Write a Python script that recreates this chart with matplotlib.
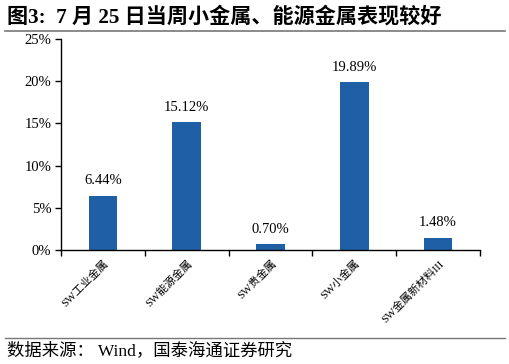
import matplotlib
matplotlib.use("Agg")
import matplotlib.pyplot as plt
from matplotlib.ticker import FuncFormatter

categories = ["SW工业金属", "SW能源金属", "SW贵金属", "SW小金属", "SW金属新材料III"]
values = [6.44, 15.12, 0.70, 19.89, 1.48]
yticks = [0, 5, 10, 15, 20, 25]

serif = ["Liberation Serif", "Noto Sans CJK SC"]
cjk = ["Liberation Serif", "Noto Sans CJK SC"]

fig = plt.figure(figsize=(5.1, 3.64), dpi=100)
ax = fig.add_axes([61/510, 1-250/364, (480-61)/510, (250-39)/364])

x = list(range(len(categories)))
bars = ax.bar(x, values, width=0.34, color="#1F5FA6")
for xi, v in zip(x, values):
    ax.text(xi, v + 1.0, f"{v:.2f}%", ha="center", va="bottom", fontsize=10.5, family=serif)

ax.set_xlim(-0.5, len(categories) - 0.5)
ax.set_ylim(0, 25)
ax.set_yticks(yticks)
ax.yaxis.set_major_formatter(FuncFormatter(lambda v, p: f"{v:.0f}%"))
for lab in ax.get_yticklabels():
    lab.set_family(serif)
    lab.set_fontsize(10.5)

ax.set_xticks([i + 0.5 for i in range(-1, len(categories))], minor=False)
ax.set_xticklabels([])
ax.set_xticks(x, minor=True)
ax.set_xticklabels(categories, minor=True, rotation=45, ha="right", rotation_mode="anchor",
                   fontsize=8, family=cjk)
ax.tick_params(axis="x", which="minor", length=0, pad=6)
ax.tick_params(axis="x", which="major", direction="out", length=4, width=1)
ax.tick_params(axis="y", direction="out", length=4, width=1, pad=3)

for s in ["top", "right"]:
    ax.spines[s].set_visible(False)
for s in ["left", "bottom"]:
    ax.spines[s].set_linewidth(1)
    ax.spines[s].set_color("black")

fig.text(7/510, 1-17/364, "图3:  7 月 25 日当周小金属、能源金属表现较好", fontsize=15.2,
         fontweight="bold", family=["Liberation Serif", "Noto Sans CJK SC"], va="center", ha="left")
fig.add_artist(plt.Line2D([5/510, 505/510], [1-31/364, 1-31/364], color="#777777", lw=1.2,
                          transform=fig.transFigure))
fig.add_artist(plt.Line2D([5/510, 505/510], [1-338/364, 1-338/364], color="#777777", lw=1.0,
                          transform=fig.transFigure))
fig.text(7/510, 1-351/364, "数据来源： Wind，国泰海通证券研究", fontsize=12.5,
         family=["Liberation Serif", "Noto Sans CJK SC"], va="center", ha="left")

fig.savefig("out.png", dpi=100)
